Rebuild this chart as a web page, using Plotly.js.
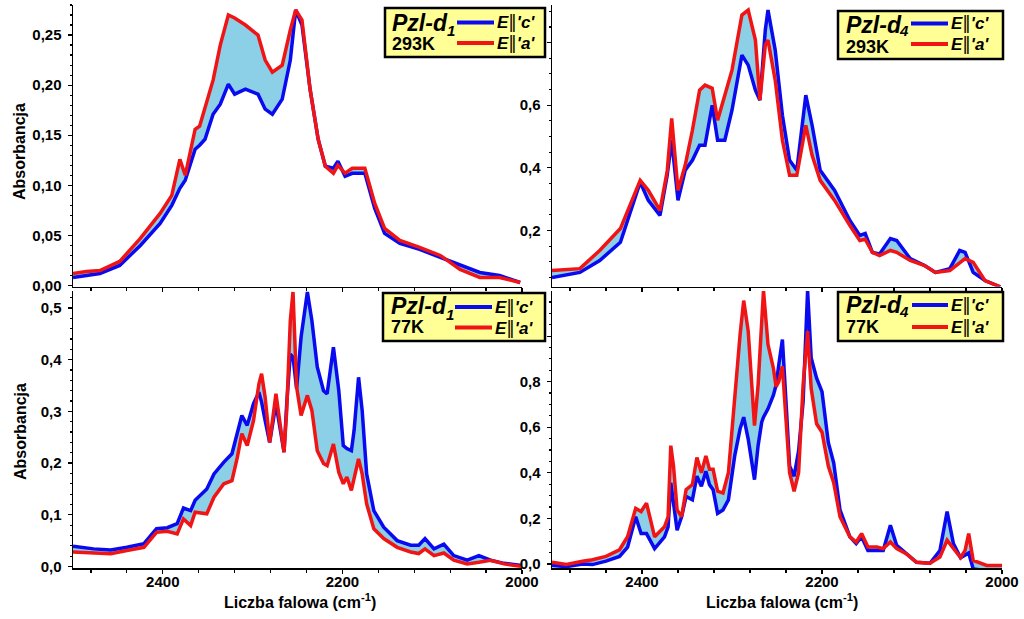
<!DOCTYPE html>
<html><head><meta charset="utf-8">
<script src="https://cdn.plot.ly/plotly-3.0.1.min.js"></script>
<style>html,body{margin:0;padding:0;background:#fff}#chart{width:1024px;height:619px}</style>
</head><body><div id="chart"></div>
<script>
// ---------- data (wavenumber cm-1, absorbance) ----------
const nuTL = [2500,2485,2470,2448,2425,2403,2390,2381,2375,2364,2359,2353,2344,2336,2327,2320,2308,2294,2286,2278,2267,2258,2252,2245,2236,2227,2219,2210,2205,2197,2189,2175,2164,2153,2136,2114,2091,2069,2047,2025,2002];
const cTL  = [0.008,0.010,0.012,0.020,0.040,0.062,0.080,0.097,0.105,0.136,0.140,0.146,0.171,0.181,0.201,0.191,0.196,0.191,0.176,0.171,0.186,0.225,0.275,0.260,0.196,0.146,0.119,0.117,0.124,0.109,0.112,0.112,0.077,0.052,0.042,0.036,0.028,0.020,0.013,0.010,0.003];
const aTL  = [0.012,0.014,0.015,0.024,0.047,0.072,0.090,0.126,0.110,0.156,0.159,0.178,0.205,0.240,0.270,0.267,0.260,0.250,0.225,0.213,0.220,0.255,0.275,0.265,0.196,0.146,0.119,0.112,0.120,0.112,0.117,0.117,0.082,0.057,0.045,0.038,0.030,0.016,0.008,0.008,0.003];

const nuTR = [2500,2469,2447,2424,2402,2393,2380,2372,2367,2360,2352,2344,2336,2330,2322,2316,2308,2300,2289,2282,2274,2269,2263,2260,2252,2244,2236,2228,2218,2211,2202,2186,2169,2158,2152,2144,2136,2124,2117,2102,2086,2074,2058,2047,2041,2032,2019,2002];
const cTR  = [0.050,0.066,0.104,0.162,0.354,0.296,0.248,0.376,0.488,0.296,0.392,0.424,0.472,0.472,0.600,0.488,0.488,0.584,0.760,0.728,0.648,0.616,0.840,0.904,0.776,0.568,0.424,0.392,0.632,0.536,0.392,0.328,0.232,0.184,0.190,0.130,0.125,0.174,0.168,0.110,0.088,0.066,0.078,0.136,0.130,0.066,0.040,0.020];
const aTR  = [0.072,0.078,0.136,0.206,0.360,0.328,0.264,0.390,0.558,0.328,0.408,0.520,0.648,0.664,0.654,0.552,0.632,0.712,0.888,0.904,0.808,0.616,0.792,0.808,0.680,0.488,0.376,0.376,0.536,0.440,0.360,0.296,0.216,0.168,0.172,0.130,0.120,0.136,0.130,0.104,0.088,0.066,0.072,0.098,0.110,0.098,0.040,0.020];

const nuBL = [2500,2477,2458,2440,2421,2407,2395,2384,2377,2369,2364,2351,2343,2332,2323,2317,2312,2306,2299,2293,2290,2286,2281,2274,2269,2265,2262,2258,2255,2251,2246,2239,2234,2228,2221,2217,2210,2204,2199,2195,2190,2187,2182,2178,2173,2165,2154,2139,2124,2115,2108,2098,2087,2076,2061,2048,2035,2020,2000];
const cBL  = [0.039,0.034,0.032,0.037,0.044,0.073,0.075,0.083,0.113,0.108,0.128,0.150,0.179,0.202,0.218,0.257,0.292,0.273,0.315,0.337,0.318,0.282,0.240,0.315,0.263,0.221,0.315,0.411,0.405,0.344,0.444,0.531,0.476,0.386,0.340,0.334,0.424,0.340,0.234,0.228,0.224,0.263,0.366,0.302,0.179,0.108,0.076,0.050,0.041,0.041,0.054,0.034,0.043,0.021,0.012,0.021,0.012,0.006,0.002];
const aBL  = [0.028,0.026,0.0245,0.031,0.037,0.066,0.068,0.063,0.092,0.079,0.105,0.102,0.134,0.160,0.166,0.211,0.257,0.234,0.282,0.353,0.373,0.327,0.240,0.334,0.270,0.221,0.302,0.476,0.531,0.347,0.292,0.331,0.302,0.224,0.199,0.195,0.237,0.182,0.160,0.173,0.147,0.173,0.208,0.179,0.121,0.073,0.054,0.037,0.028,0.025,0.034,0.021,0.026,0.012,0.005,0.008,0.012,0.005,0.000];

const nuBR = [2500,2484,2466,2455,2440,2425,2416,2407,2401,2395,2386,2375,2371,2368,2365,2361,2356,2351,2344,2339,2334,2329,2325,2321,2316,2310,2304,2297,2291,2287,2282,2278,2275,2271,2267,2265,2260,2254,2251,2248,2244,2240,2236,2231,2226,2221,2216,2212,2206,2200,2193,2187,2180,2169,2162,2156,2149,2139,2132,2124,2117,2106,2095,2080,2069,2061,2054,2046,2041,2037,2032,2017,2000];
const cBR  = [-0.007,-0.012,0.000,-0.003,0.012,0.033,0.074,0.207,0.133,0.133,0.067,0.119,0.163,0.356,0.267,0.148,0.207,0.296,0.281,0.385,0.341,0.407,0.348,0.326,0.222,0.237,0.281,0.474,0.593,0.644,0.548,0.430,0.370,0.519,0.622,0.644,0.681,0.741,0.785,0.874,0.985,0.711,0.430,0.385,0.496,0.711,1.200,0.904,0.815,0.756,0.533,0.444,0.237,0.119,0.089,0.119,0.059,0.059,0.059,0.170,0.081,0.044,0.007,0.003,0.059,0.230,0.089,0.027,0.040,0.048,-0.022,-0.030,-0.030];
const aBR  = [0.007,-0.003,0.012,0.018,0.033,0.062,0.119,0.244,0.230,0.267,0.119,0.163,0.207,0.519,0.430,0.237,0.207,0.326,0.348,0.467,0.400,0.474,0.415,0.415,0.319,0.311,0.400,0.741,1.007,1.156,1.022,0.785,0.607,0.785,1.052,1.200,0.963,0.859,0.778,0.800,0.867,0.637,0.400,0.319,0.400,0.785,1.022,0.770,0.615,0.578,0.430,0.356,0.207,0.119,0.096,0.133,0.074,0.074,0.067,0.096,0.067,0.044,0.007,0.003,0.030,0.104,0.067,0.027,0.059,0.133,0.015,-0.007,-0.007];

// tick values / labels (labels hidden behind the legend boxes are left blank)
const xTicks = [2400,2200,2000];
const yTicksTL = [0,0.05,0.10,0.15,0.20,0.25], yTextTL = ['0,00','0,05','0,10','0,15','0,20','0,25'];
const yTicksTR = [0.2,0.4,0.6,0.8],            yTextTR = ['0,2','0,4','0,6',''];
const yTicksBL = [0,0.1,0.2,0.3,0.4,0.5],      yTextBL = ['0,0','0,1','0,2','0,3','0,4','0,5'];
const yTicksBR = [0,0.2,0.4,0.6,0.8,1.0],      yTextBR = ['0,0','0,2','0,4','0,6','0,8',''];

const sampleNames = ['Pzl-d','Pzl-d','Pzl-d','Pzl-d'];
const sampleSubs = ['1','4','1','4'];
const temps = ['293K','293K','77K','77K'];
const BAR = "<span style=\"font-family:'DejaVu Sans';font-style:normal;font-weight:normal\">\u2016</span>";
const polC = "<i>E</i>" + BAR + "<i>'c'</i>";
const polA = "<i>E</i>" + BAR + "<i>'a'</i>";
const yTitle = 'Absorbancja';
const xTitle = 'Liczba falowa (cm<sup>-1</sup>)';

// ---------- styling / layout ----------
const W=1024, H=619;
const px = x => x/W, py = y => 1 - y/H;
const FONT = 'Liberation Sans, Arial, Helvetica, sans-serif';
const BLUE = '#0a0af0', RED = '#f01414', FILL = 'rgb(140,208,232)';

const panels = [
  {nu:nuTL, c:cTL, a:aTL, xs:'x',  ys:'y'},
  {nu:nuTR, c:cTR, a:aTR, xs:'x2', ys:'y2'},
  {nu:nuBL, c:cBL, a:aBL, xs:'x3', ys:'y3'},
  {nu:nuBR, c:cBR, a:aBR, xs:'x4', ys:'y4'}
];
const traces = [];
panels.forEach(p => {
  traces.push({x:p.nu, y:p.c, xaxis:p.xs, yaxis:p.ys, type:'scatter', mode:'lines',
    line:{color:BLUE, width:3.5}, hoverinfo:'skip'});
  traces.push({x:p.nu, y:p.a, xaxis:p.xs, yaxis:p.ys, type:'scatter', mode:'lines',
    line:{color:RED, width:3.5}, fill:'tonexty', fillcolor:FILL, hoverinfo:'skip'});
});

const tickFont = {family:FONT, size:15, color:'#000', weight:'bold'};
function xax(x0,x1,anchor,labels){
  return {domain:[px(x0),px(x1)], anchor:anchor, range:[2500,2000], tickvals:xTicks,
    showticklabels:labels, ticks:'outside', ticklen:4, tickwidth:1.2, tickcolor:'#000',
    ticklabelstandoff:-5,
    minor:{dtick:40, tick0:2000, ticks:'outside', ticklen:3, tickcolor:'#000', showgrid:false},
    showline:true, linecolor:'#000', linewidth:1.5, showgrid:false, zeroline:false,
    tickfont:tickFont, fixedrange:true};
}
function yax(y0,y1,anchor,range,vals,texts,mdtick){
  return {domain:[py(y1),py(y0)], anchor:anchor, range:range, tickmode:'array', tickvals:vals, ticktext:texts,
    ticks:'outside', ticklen:4, tickwidth:1.2, tickcolor:'#000', ticklabelstandoff:3,
    minor:{dtick:mdtick, tick0:0, ticks:'outside', ticklen:2, tickcolor:'#000', showgrid:false},
    showline:true, linecolor:'#000', linewidth:1.5, showgrid:false, zeroline:false,
    tickfont:tickFont, fixedrange:true};
}

const shapes = [], annotations = [];
const legendGeom = [
  {x0:385, y0:8,   x1:545,  y1:57,  tx:391, r1:23,  sx:446, sy:31,  r2:44,  lx0:457, lx1:494, l1:22.5, l2:43,   ex:496},
  {x0:838, y0:11,  x1:1003, y1:59,  tx:845, r1:25,  sx:898, sy:31,  r2:47,  lx0:911, lx1:948, l1:23.5, l2:44,   ex:950},
  {x0:383, y0:293, x1:545,  y1:341, tx:390, r1:306, sx:445, sy:314, r2:327, lx0:455, lx1:492, l1:307,  l2:327.5, ex:494},
  {x0:838, y0:292, x1:1003, y1:341, tx:845, r1:305, sx:898, sy:311, r2:327, lx0:912, lx1:948, l1:305,  l2:327,  ex:950}
];
legendGeom.forEach((g,i) => {
  shapes.push({type:'rect', xref:'paper', yref:'paper', x0:px(g.x0), x1:px(g.x1), y0:py(g.y1), y1:py(g.y0),
    fillcolor:'rgb(255,255,150)', line:{color:'#000', width:2.5}, layer:'above'});
  shapes.push({type:'line', xref:'paper', yref:'paper', x0:px(g.lx0), x1:px(g.lx1), y0:py(g.l1), y1:py(g.l1),
    line:{color:BLUE, width:4}, layer:'above'});
  shapes.push({type:'line', xref:'paper', yref:'paper', x0:px(g.lx0), x1:px(g.lx1), y0:py(g.l2), y1:py(g.l2),
    line:{color:RED, width:4}, layer:'above'});
  const A = (x,y,t,s) => annotations.push({xref:'paper', yref:'paper', x:px(x), y:py(y), xanchor:'left', yanchor:'middle',
    text:t, showarrow:false, borderpad:0, font:{family:FONT, size:s, color:'#000', weight:'bold'}});
  A(g.tx, g.r1, '<i>'+sampleNames[i]+'</i>', 23);
  A(g.sx, g.sy, '<i>'+sampleSubs[i]+'</i>', 15);
  A(g.tx, g.r2, temps[i], 18);
  A(g.ex, g.l1, polC, 17);
  A(g.ex, g.l2, polA, 17);
});
// axis titles
const T = (x,y,t,ang) => annotations.push({xref:'paper', yref:'paper', x:px(x), y:py(y), xanchor:'center', yanchor:'middle',
  text:t, textangle:ang, showarrow:false, font:{family:FONT, size:16, color:'#000', weight:'bold'}});
T(20,152,yTitle,-90);
T(20,432,yTitle,-90);
T(300,601,xTitle,0);
T(782,601,xTitle,0);

const layout = {
  width:W, height:H, margin:{l:0,r:0,t:0,b:0}, paper_bgcolor:'#fff', plot_bgcolor:'rgba(0,0,0,0)',
  showlegend:false, separators:',.', hovermode:false,
  xaxis:  xax(73,522,'y',false),
  xaxis2: xax(552,1002,'y2',false),
  xaxis3: xax(73,522,'y3',true),
  xaxis4: xax(552,1002,'y4',true),
  yaxis:  yax(5,286.5,'x',[-0.001,0.280],yTicksTL,yTextTL,0.01),
  yaxis2: yax(5,286.5,'x2',[0.021,0.92],yTicksTR,yTextTR,0.05),
  yaxis3: yax(291,568,'x3',[-0.003,0.533],yTicksBL,yTextBL,0.02),
  yaxis4: yax(291,568,'x4',[-0.018,1.198],yTicksBR,yTextBR,0.05),
  shapes:shapes, annotations:annotations
};
Plotly.newPlot('chart', traces, layout, {staticPlot:true, displayModeBar:false});
</script></body></html>
